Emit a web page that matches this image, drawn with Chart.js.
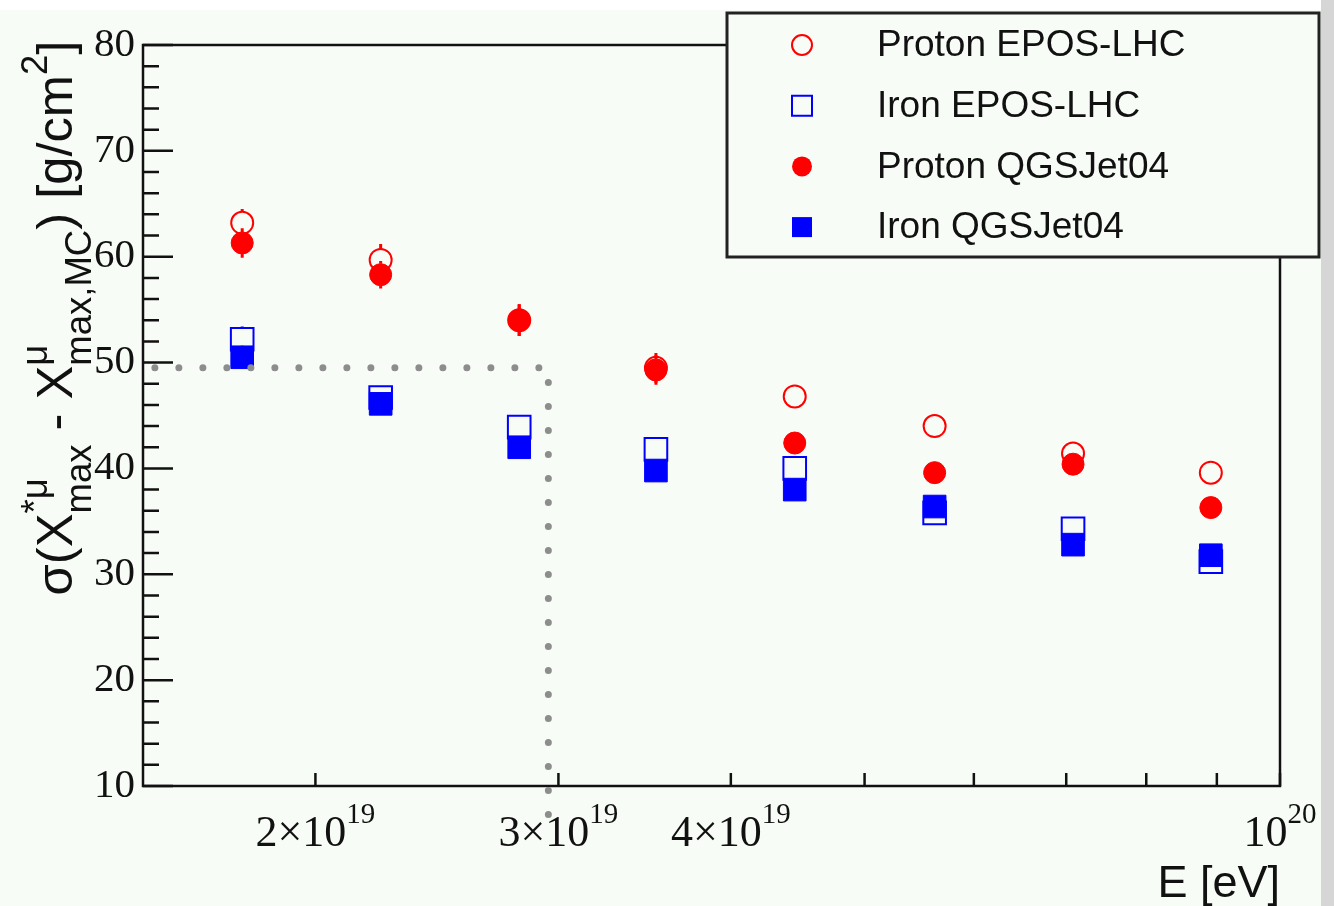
<!DOCTYPE html>
<html>
<head>
<meta charset="utf-8">
<script src="https://cdn.jsdelivr.net/npm/chart.js@4"></script>
<style>
  html, body { margin:0; padding:0; background:#fff; }
  canvas { display:block; }
</style>
</head>
<body>
<canvas id="c" width="1334" height="906"></canvas>
<script>
// Energia (centro dos bins, eV)
const energies = [1.77e19, 2.23e19, 2.81e19, 3.53e19, 4.45e19, 5.62e19, 7.08e19, 8.91e19];

// Valores (g/cm2)
const protonEpos = [63.2, 59.7, 54.0, 49.5, 46.8, 44.0, 41.4, 39.6];
const ironEpos   = [52.2, 46.7, 43.9, 41.8, 40.0, 35.8, 34.3, 31.2];
const protonQgs  = [61.3, 58.3, 54.0, 49.3, 42.4, 39.6, 40.4, 36.3];
const ironQgs    = [50.5, 46.1, 42.0, 39.8, 38.0, 36.4, 32.8, 31.8];

// Barras de erro
const protonEposErr = [1.3, 1.5, 1.5, 1.4, 1.0, 1.0, 1.0, 1.0];
const ironEposErr   = [1.2, 1.0, 1.0, 1.0, 1.0, 1.0, 1.0, 1.0];
const protonQgsErr  = [1.4, 1.3, 1.5, 1.4, 1.0, 1.0, 1.0, 1.0];
const ironQgsErr    = [1.1, 1.0, 1.0, 1.0, 1.0, 1.0, 1.0, 1.0];

// Eixos
const xMin = 1.5e19, xMax = 1e20;
const yMin = 10, yMax = 80;
const xLabelTicks = [[2e19, '2×10', '19'], [3e19, '3×10', '19'], [4e19, '4×10', '19'], [1e20, '10', '20']];
const xMinorTicks = [5e19, 6e19, 7e19, 8e19, 9e19];
const yMajorTicks = [10, 20, 30, 40, 50, 60, 70, 80];

// Linha pontilhada (corte)
const cutStartX = 1.53e19, cutX = 2.95e19, cutY = 49.5, cutEndY = 6.7;

const seriesNames = ['Proton EPOS-LHC', 'Iron EPOS-LHC', 'Proton QGSJet04', 'Iron QGSJet04'];

const RED = '#ff0000', BLUE = '#0000ff';
const SERIF = '"Liberation Serif", "DejaVu Serif", serif';
const SANS = '"Liberation Sans", Arial, sans-serif';

function pts(vals){ return energies.map((e,i)=>({x:e, y:vals[i]})); }

const datasets = [
  {label:seriesNames[0], data:pts(protonEpos), errors:protonEposErr, pointStyle:'circle', pointRadius:11,
   borderColor:RED, backgroundColor:'rgba(0,0,0,0)', pointBorderWidth:2},
  {label:seriesNames[1], data:pts(ironEpos), errors:ironEposErr, pointStyle:'rect', pointRadius:16,
   borderColor:BLUE, backgroundColor:'rgba(0,0,0,0)', pointBorderWidth:2},
  {label:seriesNames[2], data:pts(protonQgs), errors:protonQgsErr, pointStyle:'circle', pointRadius:11,
   borderColor:RED, backgroundColor:RED, pointBorderWidth:1},
  {label:seriesNames[3], data:pts(ironQgs), errors:ironQgsErr, pointStyle:'rect', pointRadius:16,
   borderColor:BLUE, backgroundColor:BLUE, pointBorderWidth:1}
];
datasets.forEach(d=>{ d.showLine=false; d.pointHoverRadius=d.pointRadius; });

// texto com sub/sobrescrito
const SCRIPT = 0.72;
function richWidth(ctx, parts, S){
  let w = 0;
  parts.forEach(p=>{
    if (p.t){ ctx.font = `${S}px ${SANS}`; w += ctx.measureText(p.t).width; }
    else {
      ctx.font = `${S*SCRIPT}px ${SANS}`;
      w += Math.max(p.sup ? ctx.measureText(p.sup).width : 0, p.sub ? ctx.measureText(p.sub).width : 0);
    }
  });
  return w;
}
function drawRich(ctx, parts, S, x0, y0){
  let x = x0;
  parts.forEach(p=>{
    if (p.t){ ctx.font = `${S}px ${SANS}`; ctx.fillText(p.t, x, y0); x += ctx.measureText(p.t).width; }
    else {
      ctx.font = `${S*SCRIPT}px ${SANS}`;
      let w = 0;
      if (p.sup){ ctx.fillText(p.sup, x, y0 - S*0.5); w = ctx.measureText(p.sup).width; }
      if (p.sub){ ctx.fillText(p.sub, x, y0 + S*0.38); w = Math.max(w, ctx.measureText(p.sub).width); }
      x += w;
    }
  });
}
const yTitleParts = [
  {t:'σ(X'}, {sup:'*μ', sub:'max'}, {t:' - X'}, {sup:'μ', sub:'max,MC'}, {t:') [g/cm'}, {sup:'2'}, {t:']'}
];

const rootStyle = {
  id:'rootStyle',
  beforeDraw(chart){
    const c = chart.ctx;
    c.save();
    c.fillStyle = '#ffffff';
    c.fillRect(0, 0, chart.width, chart.height);
    c.fillStyle = '#f8fcf7';
    c.fillRect(0, 10, chart.width, chart.height - 10);
    c.restore();
  },
  beforeDatasetsDraw(chart){
    // barras de erro (só fora do marcador)
    const c = chart.ctx, xs = chart.scales.x, ys = chart.scales.y;
    c.save();
    c.lineWidth = 3;
    chart.data.datasets.forEach(d=>{
      c.strokeStyle = d.borderColor;
      const gap = d.pointStyle === 'rect' ? d.pointRadius * Math.SQRT1_2 : d.pointRadius;
      d.data.forEach((p,i)=>{
        const px = xs.getPixelForValue(p.x), py = ys.getPixelForValue(p.y);
        const top = ys.getPixelForValue(p.y + d.errors[i]);
        const bot = ys.getPixelForValue(p.y - d.errors[i]);
        c.beginPath();
        if (py - top > gap){ c.moveTo(px, top); c.lineTo(px, py - gap); }
        if (bot - py > gap){ c.moveTo(px, py + gap); c.lineTo(px, bot); }
        c.stroke();
      });
    });
    c.restore();
  },
  afterDatasetsDraw(chart){
    const c = chart.ctx, a = chart.chartArea, xs = chart.scales.x, ys = chart.scales.y;
    c.save();
    // moldura
    c.strokeStyle = '#111';
    c.lineWidth = 2.5;
    c.strokeRect(a.left, a.top, a.right - a.left, a.bottom - a.top);
    // ticks
    c.beginPath();
    for (let v = yMin; v <= yMax; v += 2){
      const py = ys.getPixelForValue(v);
      const len = yMajorTicks.includes(v) ? 30 : 16;
      c.moveTo(a.left, py); c.lineTo(a.left + len, py);
    }
    xLabelTicks.map(t=>t[0]).concat(xMinorTicks).forEach(v=>{
      const px = xs.getPixelForValue(v);
      c.moveTo(px, a.bottom); c.lineTo(px, a.bottom - 13);
    });
    c.stroke();
    // linha pontilhada
    c.strokeStyle = '#8d8d8d';
    c.lineWidth = 7;
    c.lineCap = 'round';
    c.setLineDash([0, 24]);
    c.beginPath();
    c.moveTo(xs.getPixelForValue(cutStartX), ys.getPixelForValue(cutY));
    c.lineTo(xs.getPixelForValue(cutX), ys.getPixelForValue(cutY));
    c.lineTo(xs.getPixelForValue(cutX), ys.getPixelForValue(cutEndY));
    c.stroke();
    c.restore();
  },
  afterDraw(chart){
    const c = chart.ctx, a = chart.chartArea, xs = chart.scales.x;
    c.save();
    c.fillStyle = '#111';
    // rótulos do eixo x
    c.textBaseline = 'alphabetic';
    c.textAlign = 'left';
    xLabelTicks.forEach(([v, base, exp])=>{
      c.font = `44px ${SERIF}`;
      const wb = c.measureText(base).width;
      c.font = `29px ${SERIF}`;
      const we = c.measureText(exp).width;
      const px = xs.getPixelForValue(v) - (wb + we) / 2;
      c.font = `44px ${SERIF}`;
      c.fillText(base, px, a.bottom + 60);
      c.font = `29px ${SERIF}`;
      c.fillText(exp, px + wb, a.bottom + 37);
    });
    // título do eixo x
    c.font = `45px ${SANS}`;
    c.textAlign = 'right';
    c.fillText('E [eV]', a.right, a.bottom + 111);
    // título do eixo y
    c.textAlign = 'left';
    let S = 46;
    S = S * 555 / richWidth(c, yTitleParts, S);
    const tw = richWidth(c, yTitleParts, S);
    c.save();
    c.translate(72, 318);
    c.rotate(-Math.PI / 2);
    drawRich(c, yTitleParts, S, -tw / 2, 0);
    c.restore();

    // legenda
    const lx = a.left + 584, ly = 13, lw = 592, lh = 244;
    c.fillStyle = '#f8fcf7';
    c.fillRect(lx, ly, lw, lh);
    c.strokeStyle = '#222';
    c.lineWidth = 3;
    c.strokeRect(lx, ly, lw, lh);
    chart.data.datasets.forEach((d, i)=>{
      const cy = ly + 32 + i * 60.7, mx = lx + 75;
      c.beginPath();
      if (d.pointStyle === 'circle') c.arc(mx, cy, 10, 0, Math.PI * 2);
      else c.rect(mx - 10, cy - 10, 20, 20);
      if (d.backgroundColor !== 'rgba(0,0,0,0)'){ c.fillStyle = d.backgroundColor; c.fill(); }
      else { c.strokeStyle = d.borderColor; c.lineWidth = 2; c.stroke(); }
      c.fillStyle = '#111';
      c.font = `37px ${SANS}`;
      c.textAlign = 'left';
      c.textBaseline = 'middle';
      c.fillText(d.label, lx + 150, cy + 1);
    });
    // faixa cinza à direita
    c.fillStyle = '#d6d6d6';
    c.fillRect(1321, 0, chart.width - 1321, chart.height);
    c.restore();
  }
};

const ctx = document.getElementById('c').getContext('2d');
const chart = new Chart(ctx, {
  type:'scatter',
  data:{datasets:datasets},
  options:{
    responsive:false,
    animation:false,
    events:[],
    layout:{padding:{top:45, right:54, left:0, bottom:0}},
    plugins:{legend:{display:false}, tooltip:{enabled:false}, title:{display:false}},
    scales:{
      x:{
        type:'logarithmic', min:xMin, max:xMax,
        grid:{display:false},
        border:{display:false},
        ticks:{display:false},
        afterFit(scale){ scale.height = 120; }
      },
      y:{
        min:yMin, max:yMax,
        grid:{display:false, drawTicks:false},
        border:{display:false},
        ticks:{stepSize:10, padding:8, color:'#111', font:{family:SERIF, size:41}},
        afterFit(scale){ scale.width = 143; }
      }
    }
  },
  plugins:[rootStyle]
});
</script>
</body>
</html>
